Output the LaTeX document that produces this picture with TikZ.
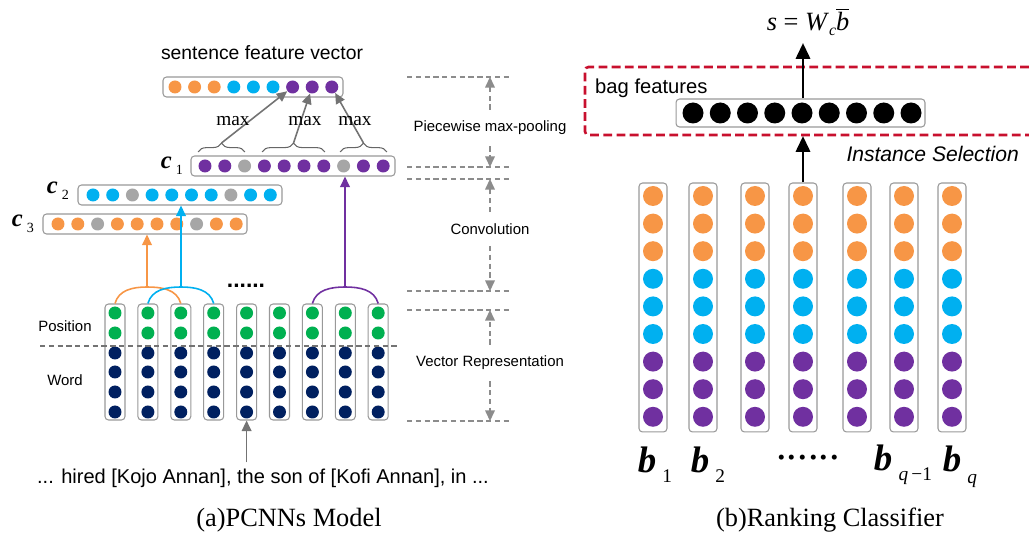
\documentclass[tikz,border=0pt]{standalone}
\usepackage{fontspec}
\setmainfont{Liberation Sans}
\newfontfamily\timesfont{Liberation Serif}
\usetikzlibrary{arrows.meta,decorations.pathreplacing,calc}
\definecolor{dotorange}{HTML}{F79646}
\definecolor{dotcyan}{HTML}{00B0F0}
\definecolor{dotpurple}{HTML}{7030A0}
\definecolor{dotgreen}{HTML}{00B050}
\definecolor{dotnavy}{HTML}{002060}
\definecolor{dotgray}{HTML}{A6A6A6}
\definecolor{selred}{HTML}{C8102E}
\tikzset{
  vecbox/.style={draw=black!40, rounded corners=2pt, fill=white, inner sep=0pt, line width=0.6pt},
  vdot/.style={circle, fill=#1, inner sep=0pt, minimum size=0.26cm},
  bdot/.style={circle, fill=#1, inner sep=0pt, minimum size=0.4cm},
  garrow/.style={draw=black!55, line width=0.9pt, -{Triangle[length=6pt,width=5.5pt]}},
  carrow/.style={draw=#1, line width=0.9pt, -{Triangle[length=6pt,width=5.5pt]}},
  karrow/.style={draw=black, line width=1.7pt, -{Triangle[length=9pt,width=8pt]}},
  sideline/.style={draw=black!45, line width=0.7pt, dash pattern=on 3pt off 2pt},
  sidearrow/.style={draw=black!45, line width=0.7pt, dash pattern=on 3pt off 2pt, -{Triangle[length=6pt,width=5.5pt]}, shorten <=3pt},
  sidelabel/.style={font=\fontsize{8.5}{10}\selectfont},
}
\begin{document}
\begin{tikzpicture}[x=0.02cm, y=-0.02cm]
  \useasboundingbox (0,0) rectangle (1029,540);

  %%%%% (a) PCNNs %%%%%
  \node (sfvlabel) at (262,53) {\fontsize{11}{12}\selectfont sentence feature vector};
  \node[vecbox, minimum width=3.6cm, minimum height=0.4cm] (sfv) at (253,87) {};
  \foreach \c [count=\i] in {dotorange,dotorange,dotorange,dotcyan,dotcyan,dotcyan,dotpurple,dotpurple,dotpurple}
    \node[vdot=\c] (s\i) at ({175+19.6*(\i-1)},87) {};

  \node[vecbox, minimum width=4.08cm, minimum height=0.4cm] (c1) at (293,166) {};
  \foreach \c [count=\i] in {dotpurple,dotpurple,dotgray,dotpurple,dotpurple,dotpurple,dotpurple,dotgray,dotpurple,dotpurple}
    \node[vdot=\c] (ca\i) at ({205+19.8*(\i-1)},166) {};
  \node[vecbox, minimum width=4.08cm, minimum height=0.4cm] (c2) at (180,195) {};
  \foreach \c [count=\i] in {dotcyan,dotcyan,dotgray,dotcyan,dotcyan,dotcyan,dotcyan,dotgray,dotcyan,dotcyan}
    \node[vdot=\c] (cb\i) at ({93+19.7*(\i-1)},195) {};
  \node[vecbox, minimum width=4.08cm, minimum height=0.4cm] (c3) at (145,224) {};
  \foreach \c [count=\i] in {dotorange,dotorange,dotgray,dotorange,dotorange,dotorange,dotorange,dotgray,dotorange,dotorange}
    \node[vdot=\c] (cc\i) at ({58+19.8*(\i-1)},224) {};

  \node (lc1) at (172,166) {\timesfont\fontsize{14}{14}\selectfont\textbf{\textit{c}}\,\raisebox{-3.5pt}{\fontsize{8}{8}\selectfont 1}};
  \node (lc2) at (58,191) {\timesfont\fontsize{14}{14}\selectfont\textbf{\textit{c}}\,\raisebox{-3.5pt}{\fontsize{8}{8}\selectfont 2}};
  \node (lc3) at (23,224) {\timesfont\fontsize{14}{14}\selectfont\textbf{\textit{c}}\,\raisebox{-3.5pt}{\fontsize{8}{8}\selectfont 3}};

  % braces and max-pooling
  \draw[decorate, decoration={brace, amplitude=5pt}, black!60, line width=0.6pt] (198,152) -- (245,152);
  \draw[decorate, decoration={brace, amplitude=5pt}, black!60, line width=0.6pt] (262,152) -- (325,152);
  \draw[decorate, decoration={brace, amplitude=5pt}, black!60, line width=0.6pt] (340,152) -- (387,152);
  \coordinate (m1) at (221.5,143);
  \coordinate (m2) at (293.5,143);
  \coordinate (m3) at (363.5,143);
  \draw[garrow] (m1) -- (s7);
  \draw[garrow] (m2) -- (s8);
  \draw[garrow] (m3) -- (s9);
  \node (max1) at (233,121) {\timesfont\fontsize{11}{11}\selectfont max};
  \node (max2) at (305,121) {\timesfont\fontsize{11}{11}\selectfont max};
  \node (max3) at (355,121) {\timesfont\fontsize{11}{11}\selectfont max};

  % word columns
  \foreach \i in {1,...,9} {
    \pgfmathsetmacro\wx{115+32.9*(\i-1)}
    \node[vecbox, minimum width=0.4cm, minimum height=2.32cm] (w\i) at (\wx,362) {};
    \foreach \y [count=\j] in {313,333}
      \node[vdot=dotgreen] (w\i p\j) at (\wx,\y) {};
    \foreach \y [count=\j] in {353,372,392,412}
      \node[vdot=dotnavy] (w\i n\j) at (\wx,\y) {};
  }
  \draw[sideline, black!55] (40,346) -- (397,346);
  \node[sidelabel] (lpos) at (65,326) {Position};
  \node[sidelabel] (lword) at (65,380) {Word};
  \node (wdots) at (246,286) {\fontsize{13}{13}\selectfont\textbf{......}};

  % convolution windows
  \coordinate (jo) at (147,287);
  \coordinate (jc) at (181,287);
  \coordinate (jp) at (345,287);
  \draw[dotorange, line width=0.9pt] (w1.north) to[out=75,in=180] (jo) to[out=0,in=105] (w3.north);
  \draw[dotcyan, line width=0.9pt] (w2.north) to[out=75,in=180] (jc) to[out=0,in=105] (w4.north);
  \draw[dotpurple, line width=0.9pt] (w7.north) to[out=75,in=180] (jp) to[out=0,in=105] (w9.north);
  \draw[carrow=dotorange] (jo) -- (jo |- c3.south);
  \draw[carrow=dotcyan] (jc) -- (jc |- c2.south);
  \draw[carrow=dotpurple] (jp) -- (jp |- c1.south);

  % sentence
  \node (sent) at (263,478) {\fontsize{11.4}{12}\selectfont ... hired [Kojo Annan], the son of [Kofi Annan], in ...};
  \draw[garrow] (sent.north -| w5) -- (w5.south);

  % layer labels
  \draw[sideline] (407,77) -- (510,77);
  \draw[sideline] (407,167) -- (510,167);
  \draw[sideline] (407,179) -- (510,179);
  \draw[sideline] (407,291) -- (510,291);
  \draw[sideline] (407,310) -- (510,310);
  \draw[sideline] (407,421) -- (510,421);
  \node[sidelabel] (lpool) at (490,128) {Piecewise max-pooling};
  \node[sidelabel] (lconv) at (490,229) {Convolution};
  \node[sidelabel] (lvec) at (490,363) {Vector Representation};
  \draw[sidearrow] (lpool.north) -- (lpool.north |- 0,77);
  \draw[sidearrow] (lpool.south) -- (lpool.south |- 0,167);
  \draw[sidearrow] (lconv.north) -- (lconv.north |- 0,179);
  \draw[sidearrow] (lconv.south) -- (lconv.south |- 0,291);
  \draw[sidearrow] (lvec.north) -- (lvec.north |- 0,310);
  \draw[sidearrow] (lvec.south) -- (lvec.south |- 0,421);

  \node (capa) at (289,520) {\timesfont\fontsize{15}{15}\selectfont (a)PCNNs Model};

  %%%%% (b) Ranking %%%%%
  \draw[selred, line width=1.5pt, dash pattern=on 5pt off 2.5pt, rounded corners=2pt] (1029,67) -| (585,135) -- (1029,135);
  \node[anchor=west] (lbag) at (589,88) {\fontsize{11.5}{12}\selectfont bag features};
  \node[vecbox, minimum width=4.98cm, minimum height=0.56cm] (bag) at (800.5,113) {};
  \foreach \i in {1,...,9}
    \node[circle, fill=black, inner sep=0pt, minimum size=0.42cm] (g\i) at ({693+27.25*(\i-1)},113) {};
  \node[anchor=east] (lsel) at (1025,154) {\fontsize{12}{12}\selectfont\itshape Instance Selection};
  \node (score) at (808,22) {\timesfont\fontsize{15}{15}\selectfont\textit{s} = \textit{W}\raisebox{-3pt}{\fontsize{9}{9}\selectfont\textit{c}}$\overline{\mbox{\textit{b}}}$};
  \coordinate (selbot) at (803,136);

  \foreach \x [count=\i] in {653,703,755,803,857,904,952} {
    \node[vecbox, minimum width=0.56cm, minimum height=4.98cm] (r\i) at (\x,307.5) {};
    \foreach \c [count=\j] in {dotorange,dotorange,dotorange,dotcyan,dotcyan,dotcyan,dotpurple,dotpurple,dotpurple}
      \node[bdot=\c] (r\i d\j) at (\x,{196+27.6*(\j-1)}) {};
  }
  \draw[karrow] (r4.north) -- (selbot);
  \draw[karrow] (bag.north -| r4) -- (r4 |- 0,43);

  \node (lb1) at (655,465) {\timesfont\fontsize{21}{21}\selectfont\textbf{\textit{b}}\,\raisebox{-5.5pt}{\fontsize{11}{11}\selectfont 1}};
  \node (lb2) at (708,465) {\timesfont\fontsize{21}{21}\selectfont\textbf{\textit{b}}\,\raisebox{-5.5pt}{\fontsize{11}{11}\selectfont 2}};
  \node (bdots) at (808,458) {\timesfont\fontsize{24}{24}\selectfont ......};
  \node (lbq1) at (903,465) {\timesfont\fontsize{21}{21}\selectfont\textbf{\textit{b}}\,\raisebox{-5.5pt}{\fontsize{11}{11}\selectfont\textit{q}\,\textminus 1}};
  \node (lbq) at (960,467) {\timesfont\fontsize{21}{21}\selectfont\textbf{\textit{b}}\,\raisebox{-7pt}{\fontsize{11}{11}\selectfont\textit{q}}};

  \node (capb) at (830,520) {\timesfont\fontsize{15}{15}\selectfont (b)Ranking Classifier};
\end{tikzpicture}
\end{document}
